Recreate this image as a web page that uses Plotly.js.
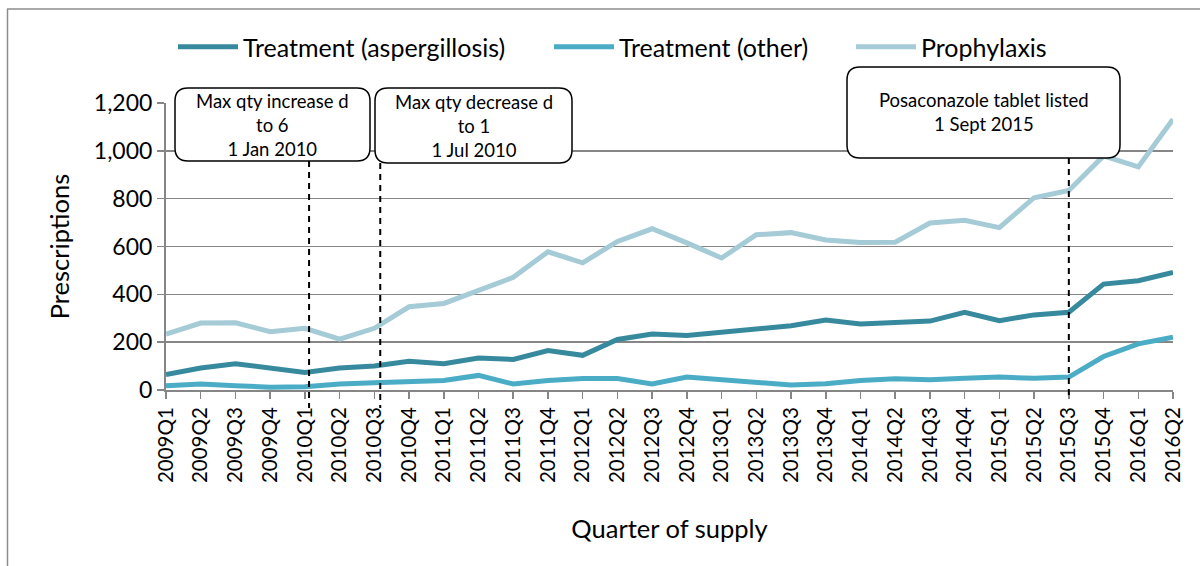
<!DOCTYPE html>
<html>
<head>
<meta charset="utf-8">
<script src="https://cdn.plot.ly/plotly-3.0.1.min.js"></script>
<style>
html,body{margin:0;padding:0;background:#fff;}
#chart{width:1200px;height:566px;}
</style>
</head>
<body>
<div id="chart"></div>
<script>
const quarters = ["2009Q1","2009Q2","2009Q3","2009Q4","2010Q1","2010Q2","2010Q3","2010Q4",
  "2011Q1","2011Q2","2011Q3","2011Q4","2012Q1","2012Q2","2012Q3","2012Q4",
  "2013Q1","2013Q2","2013Q3","2013Q4","2014Q1","2014Q2","2014Q3","2014Q4",
  "2015Q1","2015Q2","2015Q3","2015Q4","2016Q1","2016Q2"];
const treatmentAspergillosis = [65,92,110,92,73,92,100,120,110,134,128,165,145,211,234,228,
  242,260,269,293,276,282,288,325,290,314,325,443,457,492];
const treatmentOther = [18,25,18,12,14,25,30,34,40,61,25,40,48,48,25,54,
  43,32,21,26,40,47,43,49,54,49,54,140,193,221];
const prophylaxis = [234,280,281,244,258,213,258,348,362,416,471,578,532,621,674,615,
  552,649,658,627,617,618,698,710,679,804,834,979,933,1132];
const seriesNames = ["Treatment (aspergillosis)","Treatment (other)","Prophylaxis"];
const seriesColors = ["#378A9E","#4BACC6","#A5CBD7"];
const events = [
  {quarter:"2010Q1", text:"Max qty increase d<br>to 6<br>1 Jan 2010"},
  {quarter:"2010Q3", text:"Max qty decrease d<br>to 1<br>1 Jul 2010"},
  {quarter:"2015Q3", text:"Posaconazole tablet listed<br>1 Sept 2015"}
];

const W = 1200, H = 566;
const M = {l:166, r:27, t:103, b:176};
const PW = W - M.l - M.r, PH = H - M.t - M.b;
const px = x => (x - M.l) / PW;          // pixel -> paper x
const py = y => (H - M.b - y) / PH;      // pixel -> paper y
const FONT = "Lato, 'Open Sans', sans-serif";

const legendIds = ["legend","legend2","legend3"];
const legendX = [173, 549, 851];
const traces = [treatmentAspergillosis, treatmentOther, prophylaxis].map((vals, i) => ({
  type:"scatter", mode:"lines", x:quarters, y:vals, name:seriesNames[i],
  line:{color:seriesColors[i], width:5}, hoverinfo:"x+y+name", legend:legendIds[i]
}));

// callout box geometry (pixels): center x, center y, width, height, dash x offset
const boxes = [
  {cx:272.5, cy:124.5, w:195, h:73, dx:0.12},
  {cx:473.5, cy:125.5, w:197, h:75, dx:0.17},
  {cx:983.5, cy:112.5, w:273, h:91, dx:0.0}
];
function roundRect(w, h, r){
  const a = w/2, b = h/2;
  return `M${-a+r},${-b} L${a-r},${-b} Q${a},${-b} ${a},${-b+r} L${a},${b-r} Q${a},${b} ${a-r},${b} ` +
         `L${-a+r},${b} Q${-a},${b} ${-a},${b-r} L${-a},${-b+r} Q${-a},${-b} ${-a+r},${-b} Z`;
}
const shapes = [];
const annotations = [];
// outer chart border (left and top)
shapes.push({type:"line", xref:"paper", yref:"paper", x0:px(7.5), x1:px(7.5), y0:py(9), y1:py(570),
  line:{color:"#8c8c8c", width:1.5}, layer:"below"});
shapes.push({type:"line", xref:"paper", yref:"paper", x0:px(7), x1:px(1205), y0:py(9), y1:py(9),
  line:{color:"#8c8c8c", width:1.5}, layer:"below"});
events.forEach((ev, i) => {
  const b = boxes[i];
  const idx = quarters.indexOf(ev.quarter) + b.dx;
  const xp = idx / (quarters.length - 1);
  shapes.push({type:"line", xref:"paper", yref:"paper", x0:xp, x1:xp,
    y0:py(b.cy + b.h/2), y1:py(i < 2 ? 408 : 396),
    line:{color:"#000", width:2, dash:"6px,5px"}});
  shapes.push({type:"path", xref:"paper", yref:"paper", xsizemode:"pixel", ysizemode:"pixel",
    xanchor:px(b.cx), yanchor:py(b.cy), path:roundRect(b.w, b.h, 13),
    fillcolor:"#fff", line:{color:"#000", width:1.5}});
  annotations.push({xref:"paper", yref:"paper", x:px(b.cx), y:py(b.cy), text:ev.text,
    showarrow:false, xanchor:"center", yanchor:"middle", align:"center",
    font:{family:FONT, size:18.5, color:"#000"}});
});

const layout = {
  width:W, height:H, margin:M,
  paper_bgcolor:"#fff", plot_bgcolor:"#fff",
  font:{family:FONT, color:"#000"},
  showlegend:true,
  xaxis:{type:"category", categoryorder:"array", categoryarray:quarters, range:[0, quarters.length-1],
    tickangle:-90, tickfont:{family:FONT, size:20.5, color:"#000"},
    showline:true, linecolor:"#868686", linewidth:2, ticks:"outside", ticklen:7, tickcolor:"#868686",
    tickwidth:1.5, showgrid:false, zeroline:false, automargin:false,
    title:{text:"Quarter of supply", font:{family:FONT, size:25.5, color:"#000"}, standoff:38}},
  yaxis:{range:[0,1200], dtick:200, tickformat:",", tickfont:{family:FONT, size:23, color:"#000"},
    showline:true, linecolor:"#868686", linewidth:2, ticks:"outside", ticklen:7, tickcolor:"#868686",
    tickwidth:1.5, showgrid:true, gridcolor:"#868686", gridwidth:1.5, zeroline:false, automargin:false,
    title:{text:"Prescriptions", font:{family:FONT, size:25.5, color:"#000"}, standoff:17}},
  shapes:shapes, annotations:annotations
};
legendIds.forEach((id, i) => {
  layout[id] = {orientation:"h", x:px(legendX[i]), xanchor:"left", y:py(47), yanchor:"middle",
    font:{family:FONT, size:25, color:"#000"}, itemwidth:60, bgcolor:"rgba(0,0,0,0)"};
});
Plotly.newPlot("chart", traces, layout, {displayModeBar:false, staticPlot:true});
</script>
</body>
</html>
